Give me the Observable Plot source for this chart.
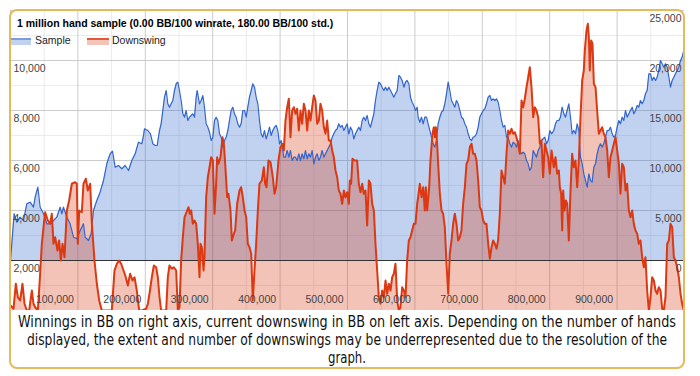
<!DOCTYPE html>
<html><head><meta charset="utf-8">
<script src="https://cdn.jsdelivr.net/npm/d3@7"></script>
<script src="https://cdn.jsdelivr.net/npm/@observablehq/plot@0.6"></script>
<style>
html,body{margin:0;padding:0;background:#fff;width:700px;height:376px;overflow:hidden}
#chart{position:absolute;left:10px;top:10px}
#frame{position:absolute;left:9px;top:9px;width:676px;height:360px;box-sizing:border-box;border:2px solid #e6b95a;border-radius:8px;pointer-events:none}
#title{position:absolute;left:17px;top:17px;line-height:12px;font:bold 10.5px Arial,"Liberation Sans",sans-serif;color:#000;white-space:nowrap}
.leg{position:absolute;top:34px;line-height:12px;font:10.5px Arial,"Liberation Sans",sans-serif;color:#222;white-space:nowrap}
.sw{position:absolute;width:22px;height:5px}
.cap{position:absolute;left:0;white-space:nowrap;line-height:18px;font-size:16px;font-family:"Liberation Sans Narrow","DejaVu Sans Condensed",sans-serif;color:#111;transform-origin:0 0}
</style></head>
<body>
<div id="chart"></div>
<div id="title">1 million hand sample (0.00 BB/100 winrate, 180.00 BB/100 std.)</div>
<div class="sw" style="left:9px;top:38px;background:#c2d1f0;border-top:2px solid #7c9be0"></div>
<div class="leg" style="left:35px">Sample</div>
<div class="sw" style="left:87px;top:38px;background:#f5c4b8;border-top:2px solid #e2583a"></div>
<div class="leg" style="left:112px">Downswing</div>
<span class="cap" data-w="658" style="top:313px">Winnings in BB on right axis, current downswing in BB on left axis. Depending on the number of hands</span>
<span class="cap" data-w="640" style="top:331px">displayed, the extent and number of downswings may be underrepresented due to the resolution of the</span>
<span class="cap" data-w="38" style="top:349px">graph.</span>
<div id="frame"></div>
<script>
// [hands, winnings in BB] (right axis)
const sample = [
[0,0],[5400,4670],[9400,3830],[14300,4330],[19300,4000],[24200,5670],[29200,5830],[34100,5330],[36600,6330],[40600,7330],
[44000,5330],[49000,4670],[53900,3670],[58900,3670],[63800,4000],[68700,4330],[73700,5330],[76200,4670],[78600,5330],[83600,4330],
[88500,3670],[93500,2330],[98400,2170],[103400,3000],[108300,3670],[110800,2330],[115700,2000],[119700,2670],[123100,5000],[128100,6000],
[133000,6830],[138000,8000],[142900,9670],[147900,10670],[151300,10930],[155300,9330],[160200,9500],[165200,9170],[170100,9500],[175100,9000],
[180000,10000],[185000,10670],[189900,11830],[194900,11670],[197300,12500],
[198800,13170],[203800,13000],[207700,12670],[211200,11670],[214600,11500],[217600,11500],[221100,13000],[223500,13670],[226000,15000],[228500,16330],
[231000,17000],[233400,15670],[235900,15330],[238400,15670],[240900,16000],[243300,17000],[245800,17670],[248300,17830],[250700,17000],[253200,16000],
[255700,14670],[258200,14330],[260600,15000],[263100,14000],[265600,14330],[268100,14500],[270500,14670],[273000,14330],[275500,16330],[277000,17000],
[280400,15670],[282900,16000],[285400,16500],[287800,15330],[290300,13670],[292800,13330],[295300,12830],[297700,12000],[300200,12330],[302700,14000],
[305100,14330],[307600,14000],[310100,12670],[312600,12330],[315000,11330],[317500,12000],[320000,12330],[322500,13000],[324900,14000],[327400,15000],
[329900,15330],[332300,14670],[334800,14330],[337300,13670],[339800,13330],[342200,13670],[344700,15000],[347200,15000],[349700,14330],[352100,15330],
[354600,16330],[357100,17000],[359500,17670],[362000,17330],[364500,16330],[367000,15670],[369400,14000],[371900,12670],[374400,12330],[376900,13000],
[379300,12170],[381800,12670],[384300,13330],[386700,12500],[389200,13000],[391700,13330],[394200,13500],[396600,13000],[399100,11670],[401600,12000],
[405500,10330],[408000,10330],[410500,11000],[413000,10330],[415400,11000],[417900,10000],[420400,10330],[422800,10330],[425300,10000],[427800,10670],
[430300,10000],[432700,10670],[435200,10170],[437700,11000],[440200,10170],[442600,10670],[445100,10330],[447600,11000],[450100,9670],[452500,10330],
[455000,10670],[457500,10000],[459900,10330],[462400,11000],[464900,10330],[467400,10670],[469800,11000],[472300,11330],[474800,11670],[477300,12330],
[479700,12670],[482200,13000],[484700,13170],[487100,13670],[489600,13330],[492100,13500],[494600,13000],[497000,13330],[499500,13670],[502000,12670],
[504500,13330],[506900,13000],[509400,12170],[511900,12670],[514300,13000],[516800,13330],[519300,13000],[521800,14000],[524200,14330],[526700,14000],
[529200,14500],[531700,13670],[534100,13330],[536600,14000],[539100,14670],[541500,16000],[544000,17000],[546500,17830],[549000,17670],[551400,17330],
[553900,17000],[556400,17330],[558900,17000],[561300,17330],[563800,17000],[566300,16670],[568700,16330],[571200,16670],[573700,17000],[576200,18500],
[578600,18330],[581100,18000],[583600,17330],[586100,17830],[588500,18000],[591000,17670],[593500,16330],[595900,15830],[598400,15500],[600900,15000],
[603400,15330],
[604800,14330],[607300,13830],[609800,14330],[612300,13670],[614700,14330],[617200,14330],[619700,13670],[622200,13000],[624600,12330],[627100,11670],
[629600,11330],[632000,12000],[634500,13670],[637000,14330],[639500,14830],[641900,15000],[644400,15670],[646900,16670],[649400,17830],[651800,17000],
[654300,16000],[656800,15670],[659200,15330],[661700,16000],[664200,15670],[666700,15000],[669100,14330],[671600,14170],[674100,13670],[676600,13330],
[679000,12670],[681500,12170],[684000,12000],[686400,12330],[688900,12400],[691400,12670],[693900,13330],[696300,14330],[698800,14670],[701300,15000],
[703800,15170],[706200,15670],[708700,16330],[711200,16500],[713700,16000],[716100,16170],[718600,16000],[721100,16170],[723500,15830],[726000,15000],
[728500,14000],[731000,13330],[733400,13500],[735900,12330],[738400,12330],[740900,11670],[743300,11330],[745800,11830],[748300,11670],[750700,11330],
[753200,12000],[755700,11000],[758200,10670],[760600,10830],[763100,10670],[765600,10000],[768100,9670],[770500,9000],[773000,9330],[775500,11000],
[777900,10670],[780400,10330],[782900,11000],[785400,11330],[787800,12000],[790300,12170],[792800,12330],[795300,11670],[797700,12000],[800200,13000],
[802700,12670],
[806100,13000],[808600,13670],[811100,14000],[813600,14000],[816000,14330],[818500,15330],[821000,14670],[823400,14330],[825900,15000],[828400,15670],
[830900,14330],[833300,12670],[835800,13000],[838300,12670],[840800,13670],[843200,13000],[845700,10330],[848200,9670],[850600,8670],[853100,8000],
[855600,7330],[858100,8670],[860500,8000],[863000,7830],[865500,9330],[868000,9670],[870400,10670],[872900,11330],[875400,11670],[877800,11330],
[880300,11670],[882800,12330],[885300,13000],[887700,13000],[890200,13330],[892700,12670],[895200,12330],[897600,12500],[900100,13330],[902600,14000],
[905000,13670],[907500,14330],[910000,14000],[912500,15000],[914900,14330],[917400,14670],[919900,15000],[922400,15330],[924800,14670],[927300,15000],
[929800,15500],[932200,15330],[934700,16000],[937200,15670],[939700,16000],[942100,16670],[944600,17000],[947100,18670],[949600,18670],[952000,18000],
[954500,18330],[957000,18000],[959400,18330],[961900,19000],[964400,20000],[966900,19670],[969300,19330],[971800,19670],[974300,19330],[976800,18330],
[979200,17330],[981700,18000],[984200,18330],[986600,18670],[989100,19000],[991600,19330],[994100,20000],[996500,20330],[999000,21000]
];
// [hands, current downswing in BB] (left axis)
const downswing = [
[0,200],[4500,70],[7900,1070],[10900,530],[14300,400],[17800,1070],[20800,270],[24200,0],[27700,0],[31700,800],
[34100,270],[36600,130],[40600,0],[44000,1470],[46500,2670],[49000,3330],[51400,3930],[55400,3600],[58900,3470],[61300,3870],
[63800,2670],[66300,2930],[69700,2400],[72200,2800],[74700,2000],[77200,2670],[80100,2130],[83600,4000],[87000,4400],[91000,5070],
[95900,5130],[98400,5070],[99900,2670],[101900,4000],[105800,3930],[108300,5070],[111800,5270],[114700,4800],[118200,5070],[120700,3470],
[124600,2000],[128100,1070],[131600,400],[135500,0],[140500,0],[145400,0],[150300,0],[154300,1600],[157800,1870],[161200,2000],
[164200,1870],[167700,1600],[171100,1330],[174100,1000],[177500,1470],[181000,1200],[184000,1330],[187400,800],[190900,0],[194900,0],
[201300,70],[203800,270],[206200,670],[209700,1330],[212700,1800],[216100,1730],[218600,1330],[221100,530],[223500,0],[228500,0],
[231000,0],[233400,1330],[235900,1800],[239400,1670],[242300,1730],[245800,1600],[248300,0],[250700,130],[253200,2000],[255700,2930],
[258200,3730],[262100,4000],[264100,4130],[266100,3870],[268100,4000],[270500,3470],[273000,3600],[275500,3470],[277900,2670],[280400,1330],
[281900,2670],[283900,2530],[286400,1600],[287800,2130],[290300,4530],[292800,5330],[295300,5730],[297700,6130],[300200,6000],[302700,3870],
[305100,5070],[306600,6130],[308600,5870],[311600,6130],[314500,6930],[316500,6670],[318500,5870],[321500,4530],[323400,4670],[326400,4000],
[328400,2800],[331400,3070],[333300,3200],[336300,4270],[339800,4800],[342200,4930],[344700,4530],[347200,4000],[349700,3730],[352100,2670],
[354600,2530],[357100,2270],[359500,400],[362000,1600],[364500,2670],[367000,4000],[369400,5070],[372900,5200],[375900,5730],[377800,5070],
[379800,4930],[382800,6000],[385800,5930],[389200,5330],[391700,4670],[394200,4930],[397600,6000],[400600,6530],[403600,6670],
[405500,6400],[408000,7600],[410500,8130],[413000,8470],[415400,6930],[417900,8000],[420400,8130],[422800,7870],[425300,8070],[427800,7200],
[430300,8000],[432700,7470],[435200,8270],[437700,8000],[440200,7200],[442600,8000],[445100,7600],[447600,8130],[450100,8600],[452500,8400],
[455000,7470],[457500,7600],[459900,8270],[462400,8000],[464900,7330],[467400,7070],[469800,7600],[472300,6800],[474800,6800],[477300,6400],
[479700,6130],[482200,5600],[484700,5330],[487100,4800],[489600,4670],[492100,4270],[494600,4800],[497000,4530],[499500,4730],[502000,4270],
[503500,5200],[505400,5070],[507400,6070],[510400,6000],[514300,6000],[516800,5070],[519300,4730],[521800,5070],[524200,4670],[526700,4800],
[529200,3400],[531700,5200],[534100,5070],[536600,4270],[539100,4000],[541500,2670],[544000,1600],[546500,530],[549000,270],[551400,800],
[553900,530],[556400,1200],[558900,670],[561300,1070],[563800,800],[566300,1330],[568700,1470],[571200,1870],[573700,400],[576200,0],
[578600,130],[581100,930],[583600,800],[586100,530],[588500,2000],[591000,2800],[593500,2930],[595900,3200],[598400,3470],[600900,3470],
[603400,4270],
[604800,4530],[607300,5070],[609800,4530],[612300,4930],[614700,4000],[616200,4930],[618200,4000],[621200,4930],[623100,6000],[626100,7070],
[628100,7330],[629600,6930],[631100,7330],[633000,6670],[634500,5870],[637000,4670],[639500,4000],[641900,3870],[644400,3330],[646900,1870],
[649400,670],[651800,2270],[654300,2800],[656800,3470],[659200,3870],[661700,3470],[664200,2800],[666700,2930],[669100,3200],[671600,4270],
[674100,4930],[676600,5870],[679000,6000],[681500,6530],[684000,6670],[686400,6270],[688900,6270],[691400,6000],[693900,5200],[696300,4130],
[698800,4000],[701300,3600],[703800,3470],[706200,3470],[708700,2670],[711200,2070],[713700,2530],[716100,2800],[718600,2670],[721100,2470],
[723500,2800],[726000,3870],[728500,5600],[731000,5330],[733400,5070],[735900,6270],[738400,7200],[740900,7070],[743300,7270],[745800,7070],
[748300,7130],[750700,6930],[753200,6670],[755700,6270],[758200,8400],[760600,8130],[763100,8470],[765600,8930],[768100,9330],[770500,9730],
[773000,8930],[775500,7730],[777900,8130],[780400,8000],[782900,7730],[785400,6670],[787800,6800],[790300,5330],[792800,6670],[795300,6400],
[797700,6130],[800200,5470],[802700,6400],
[806100,5730],[808600,6130],[811100,5470],[813600,5600],[815000,4930],[817000,4670],[818500,3200],[820000,4800],[822000,4000],[823900,4400],
[825900,4270],[828400,2800],[830900,4800],[833300,6270],[835800,5730],[838300,6000],[840800,4930],[843200,6000],[845700,7730],[848200,9200],
[850600,9600],[852100,10400],[854600,11200],[856600,11470],[858100,10930],[859500,9600],[861500,10800],[863500,10670],[865500,9070],[868000,8930],
[870400,8000],[872900,7070],[875400,7200],[877800,7330],[880300,7070],[882800,6930],[885300,6400],[887700,5330],[890200,6130],[892700,6400],
[895200,6670],[897600,6930],[900100,6400],[902600,5870],[905000,4670],[907500,5870],[910000,5730],[912500,4800],[914900,5070],[917400,4000],
[919900,3730],[922400,4000],[924800,3470],[927300,3200],[929800,3070],[932200,2670],[934700,2800],[937200,2130],[939700,1730],[942100,2130],
[944600,800],[947100,0],[949600,530],[952000,1330],[954500,1200],[957000,800],[959400,670],[961900,930],[964400,800],[966900,70],
[969300,0],[971800,530],[974300,2670],[976800,2800],[979200,3470],[981700,3330],[984200,2130],[986600,2000],[989100,1730],[991600,1330],
[994100,670],[996500,270],[999000,0]
];
const leftTicks = [2000, 4000, 6000, 8000, 10000];
const rightTicks = [0, 5000, 10000, 15000, 20000, 25000];
const xTicks = [100000, 200000, 300000, 400000, 500000, 600000, 700000, 800000, 900000];
const leftDomain = [0, 12000];
const rightDomain = [-5000, 25000];
const fmt = d3.format(",");
// map right-axis (winnings) values onto the left-axis scale
const toLeft = v => (v - rightDomain[0]) * (leftDomain[1] - leftDomain[0]) / (rightDomain[1] - rightDomain[0]) + leftDomain[0];

const plot = Plot.plot({
  width: 674,
  height: 300,
  margin: 0,
  x: {domain: [0, 1000000], axis: null},
  y: {domain: leftDomain, axis: null},
  style: {fontFamily: "Arial, 'Liberation Sans', sans-serif", fontSize: "10.5px", background: "transparent"},
  marks: [
    Plot.ruleY(d3.range(1000, 12000, 2000), {stroke: "#ebebeb"}),
    Plot.ruleX(d3.range(50000, 1000000, 100000), {stroke: "#ebebeb"}),
    Plot.ruleY(d3.range(0, 12001, 2000), {stroke: "#cccccc"}),
    Plot.ruleX(d3.range(0, 1000001, 100000), {stroke: "#cccccc"}),
    Plot.areaY(sample, {x: d => d[0], y1: toLeft(0), y2: d => toLeft(d[1]), fill: "#3366cc", fillOpacity: 0.3}),
    Plot.areaY(downswing, {x: d => d[0], y1: 0, y2: d => d[1], fill: "#dc3912", fillOpacity: 0.3}),
    Plot.ruleY([toLeft(0)], {stroke: "#333333"}),
    Plot.line(sample, {x: d => d[0], y: d => toLeft(d[1]), stroke: "#3366cc", strokeWidth: 1.2}),
    Plot.line(downswing, {x: d => d[0], y: d => d[1], stroke: "#dc3912", strokeWidth: 2}),
    Plot.text(leftTicks, {y: d => d, text: d => fmt(d), frameAnchor: "left", textAnchor: "start", dx: 3, dy: 8.5, fill: "#444"}),
    Plot.text(rightTicks, {y: d => toLeft(d), text: d => fmt(d), frameAnchor: "right", textAnchor: "end", dx: -3, dy: 8.5, fill: "#444"}),
    Plot.text(xTicks, {x: d => d, text: d => fmt(d), frameAnchor: "bottom", textAnchor: "end", dx: -4, dy: -8, fill: "#444"})
  ]
});
document.getElementById("chart").appendChild(plot);

// fit each caption line to the width it has in the reference, centred in the frame
document.querySelectorAll(".cap").forEach(el => {
  const target = +el.dataset.w;
  const natural = el.getBoundingClientRect().width;
  el.style.left = (347 - target / 2) + "px";
  el.style.transform = "scaleX(" + (target / natural) + ")";
});
</script>
</body></html>
